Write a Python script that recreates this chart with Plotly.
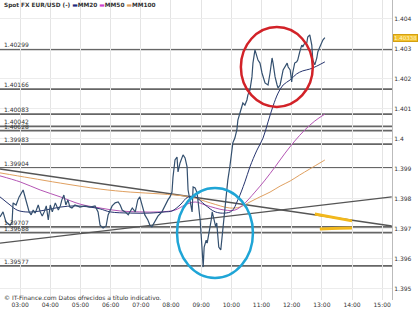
import plotly.graph_objects as go

DAY = "2011-08-10 "

# Spot EUR/USD price
price_t = ["02:20","02:26","02:32","02:40","02:44","02:46","02:52","02:58","03:06","03:12","03:18","03:22","03:26","03:30","03:36","03:40","03:44","03:48","03:52","03:56",
           "04:00","04:04","04:10","04:16","04:20","04:23","04:27","04:31","04:35","04:39","04:43","04:49","04:59","05:09","05:19","05:29","05:35","05:39","05:45","05:51",
           "05:55","06:03","06:09","06:15","06:19","06:23","06:29","06:35","06:43","06:49","06:54","06:58","07:02","07:08","07:14","07:18","07:22","07:28","07:34","07:42",
           "07:48","07:54","07:58","08:02","08:04","08:08","08:12","08:14","08:18","08:22","08:24","08:28","08:32","08:34","08:38","08:42","08:44","08:48","08:52","08:54",
           "08:58","09:02","09:04","09:06","09:10","09:12","09:16","09:20","09:22","09:25","09:29","09:31","09:33","09:35","09:39","09:41","09:43","09:47","09:51","09:53",
           "09:57","10:01","10:03","10:07","10:11","10:13","10:17","10:21","10:23","10:27","10:31","10:33","10:37","10:41","10:43","10:47","10:51","10:53","10:57","11:01",
           "11:07","11:13","11:17","11:21","11:23","11:27","11:31","11:33","11:37","11:41","11:43","11:51","11:53","11:57","12:00","12:02","12:06","12:10","12:12","12:16",
           "12:20","12:22","12:26","12:30","12:32","12:36","12:40","12:42","12:46","12:50","12:52","12:56","13:00","13:02","13:06"]
price_v = [1.39740,1.39757,1.39723,1.39713,1.39723,1.39787,1.39780,1.39807,1.39830,1.39797,1.39757,1.39747,1.39763,1.39753,1.39780,1.39757,1.39743,1.39757,1.39777,1.39730,
           1.39780,1.39757,1.39787,1.39763,1.39777,1.39797,1.39813,1.39780,1.39797,1.39773,1.39770,1.39780,1.39773,1.39777,1.39773,1.39777,1.39757,1.39713,1.39703,1.39710,
           1.39747,1.39777,1.39787,1.39790,1.39780,1.39763,1.39757,1.39747,1.39770,1.39757,1.39797,1.39807,1.39780,1.39747,1.39730,1.39713,1.39707,1.39723,1.39743,1.39757,
           1.39780,1.39797,1.39807,1.39823,1.39873,1.39930,1.39940,1.39890,1.39920,1.39940,1.39947,1.39937,1.39907,1.39830,1.39790,1.39757,1.39840,1.39837,1.39820,1.39790,
           1.39730,1.39630,1.39573,1.39640,1.39663,1.39653,1.39687,1.39730,1.39757,1.39730,1.39707,1.39720,1.39687,1.39640,1.39630,1.39663,1.39707,1.39763,1.39820,1.39863,
           1.39907,1.39953,1.39987,1.40003,1.40030,1.40063,1.40087,1.40103,1.40120,1.40113,1.40130,1.40147,1.40163,1.40207,1.40253,1.40297,1.40270,1.40263,1.40253,1.40220,
           1.40187,1.40180,1.40220,1.40270,1.40253,1.40207,1.40180,1.40170,1.40180,1.40213,1.40230,1.40253,1.40240,1.40230,1.40190,1.40220,1.40253,1.40257,1.40263,1.40290,
           1.40313,1.40307,1.40320,1.40320,1.40340,1.40347,1.40313,1.40263,1.40247,1.40270,1.40290,1.40307,1.40323,1.40330,1.40338]

mm20_t = ["02:20","02:40","02:54","03:10","03:26","03:50","04:20","04:49","05:19","05:39","05:59","06:39","07:18","07:48","08:02","08:18","08:34","08:48","09:08","09:28",
          "09:47","10:01","10:13","10:27","10:37","10:51","11:03","11:13","11:23","11:33","11:43","11:57","12:10","12:22","12:36","12:50","13:06"]
mm20_v = [1.39807,1.39780,1.39763,1.39757,1.39757,1.39763,1.39773,1.39777,1.39773,1.39767,1.39757,1.39753,1.39753,1.39757,1.39760,1.39780,1.39807,1.39807,1.39780,1.39757,
          1.39753,1.39760,1.39797,1.39857,1.39907,1.39963,1.40003,1.40057,1.40110,1.40153,1.40180,1.40197,1.40217,1.40227,1.40233,1.40243,1.40257]

mm50_t = ["02:20","03:00","03:40","04:20","04:59","05:39","06:19","06:58","07:38","08:08","08:28","08:48","09:08","09:28","09:47","10:07","10:23","10:47","11:07","11:27",
          "11:47","12:06","12:26","12:46","13:06"]
mm50_v = [1.39877,1.39857,1.39830,1.39807,1.39783,1.39770,1.39760,1.39757,1.39757,1.39763,1.39780,1.39790,1.39780,1.39770,1.39763,1.39763,1.39780,1.39823,1.39863,1.39907,
          1.39953,1.39993,1.40030,1.40060,1.40083]

mm100_t = ["02:20","03:20","04:20","05:39","06:39","07:38","08:38","09:18","09:57","10:17","10:37","10:57","11:17","11:37","11:57","12:16","12:36","13:06"]
mm100_v = [1.39887,1.39870,1.39853,1.39833,1.39823,1.39817,1.39807,1.39787,1.39770,1.39773,1.39790,1.39807,1.39823,1.39843,1.39860,1.39880,1.39900,1.39930]

# support / resistance levels
levels = [1.40299, 1.40166, 1.40083, 1.40042, 1.40028, 1.39983, 1.39904, 1.39707, 1.39688, 1.39577]

# trend lines
trend_down_t = ["02:20", "15:19"]
trend_down_v = [1.39900, 1.39710]
trend_up_t = ["02:20", "15:19"]
trend_up_v = [1.39653, 1.39807]

# yellow projection marks
proj1_t = ["12:46", "14:00"]
proj1_v = [1.39750, 1.39727]
proj2_t = ["12:56", "13:20", "14:00"]
proj2_v = [1.39700, 1.39702, 1.39703]

# highlight ellipses: (t0, t1, v0, v1)
red_ellipse = ("10:19", "12:42", 1.40107, 1.40373)
blue_ellipse = ("08:12", "10:43", 1.39537, 1.39837)

last_price = "1.40338"
y_ticks = [1.395, 1.396, 1.397, 1.398, 1.399, 1.400, 1.401, 1.402, 1.403, 1.404]
y_tick_text = ["1.395", "1.396", "1.397", "1.398", "1.399", "1.4", "1.401", "1.402", "1.403", "1.404"]
x_hours = ["03:00","04:00","05:00","06:00","07:00","08:00","09:00","10:00","11:00","12:00","13:00","14:00","15:00"]

FONT = "DejaVu Sans"
def T(lst):
    return [DAY + s for s in lst]

fig = go.Figure()
fig.add_trace(go.Scatter(x=T(trend_down_t), y=trend_down_v, mode="lines", line=dict(color="#555555", width=1.3)))
fig.add_trace(go.Scatter(x=T(trend_up_t), y=trend_up_v, mode="lines", line=dict(color="#555555", width=1.3)))
fig.add_trace(go.Scatter(x=T(mm100_t), y=mm100_v, mode="lines", line=dict(color="#e0a060", width=1, shape="spline")))
fig.add_trace(go.Scatter(x=T(mm50_t), y=mm50_v, mode="lines", line=dict(color="#b455b4", width=1, shape="spline")))
fig.add_trace(go.Scatter(x=T(mm20_t), y=mm20_v, mode="lines", line=dict(color="#26346e", width=1, shape="spline")))
fig.add_trace(go.Scatter(x=T(price_t), y=price_v, mode="lines", line=dict(color="#34506f", width=1.2)))
fig.add_trace(go.Scatter(x=T(proj1_t), y=proj1_v, mode="lines", line=dict(color="#f2b81c", width=3)))
fig.add_trace(go.Scatter(x=T(proj2_t), y=proj2_v, mode="lines", line=dict(color="#f2b81c", width=3, shape="spline")))

shapes = []
annotations = []
for lv in levels:
    shapes.append(dict(type="line", xref="paper", x0=0, x1=1, yref="y", y0=lv, y1=lv,
                       line=dict(color="#666666", width=1.8), layer="between"))
    annotations.append(dict(xref="paper", x=0.004, yref="y", y=lv, yanchor="bottom", xanchor="left",
                            text=f"{lv:.5f}", showarrow=False, yshift=-1,
                            font=dict(family=FONT, size=6, color="#333333")))

for (t0, t1, v0, v1), col in ((red_ellipse, "#d22228"), (blue_ellipse, "#1fa5d6")):
    shapes.append(dict(type="circle", xref="x", yref="y", x0=DAY + t0, x1=DAY + t1, y0=v0, y1=v1,
                       line=dict(color=col, width=2.5), layer="above"))

legend_text = ("<b>Spot FX EUR/USD (-) <span style='color:#1c2a80'>▬</span>MM20 "
               "<span style='color:#d040d0'>▬</span>MM50 <span style='color:#e0a060'>▬</span>MM100</b>")
annotations.append(dict(xref="paper", x=0.004, yref="paper", y=0.982, xanchor="left", yanchor="middle",
                        text=legend_text, showarrow=False, font=dict(family=FONT, size=5.8, color="#333333")))
annotations.append(dict(xref="paper", x=0.004, yref="paper", y=0.008, xanchor="left", yanchor="middle",
                        text="© IT-Finance.com Datos ofrecidos a título indicativo.", showarrow=False,
                        font=dict(family=FONT, size=6, color="#333333")))
annotations.append(dict(xref="paper", x=1.002, yref="y", y=float(last_price), xanchor="left", yanchor="middle",
                        text=last_price, showarrow=False, bgcolor="#f2c230",
                        bordercolor="#d4a010", borderwidth=1, borderpad=0,
                        font=dict(family=FONT, size=5.5, color="#fff6d0")))

fig.update_layout(
    width=420, height=315,
    margin=dict(l=0, r=28, t=0, b=15),
    paper_bgcolor="white", plot_bgcolor="white",
    showlegend=False,
    shapes=shapes, annotations=annotations,
    xaxis=dict(type="date", range=[DAY + "02:20", DAY + "15:19:30"],
               tickvals=T(x_hours), ticktext=x_hours, showgrid=True, gridcolor="#e4e4e4", gridwidth=1,
               zeroline=False, showline=False, ticks="", ticklen=0,
               tickfont=dict(family=FONT, size=6, color="#333333")),
    yaxis=dict(side="right", range=[1.394633, 1.404633], tickvals=y_ticks, ticktext=y_tick_text,
               showgrid=True, gridcolor="#ececec", gridwidth=1, zeroline=False,
               showline=True, linecolor="#bbbbbb", linewidth=1, ticks="",
               tickfont=dict(family=FONT, size=6, color="#333333")),
)

fig.write_html("out.html")
